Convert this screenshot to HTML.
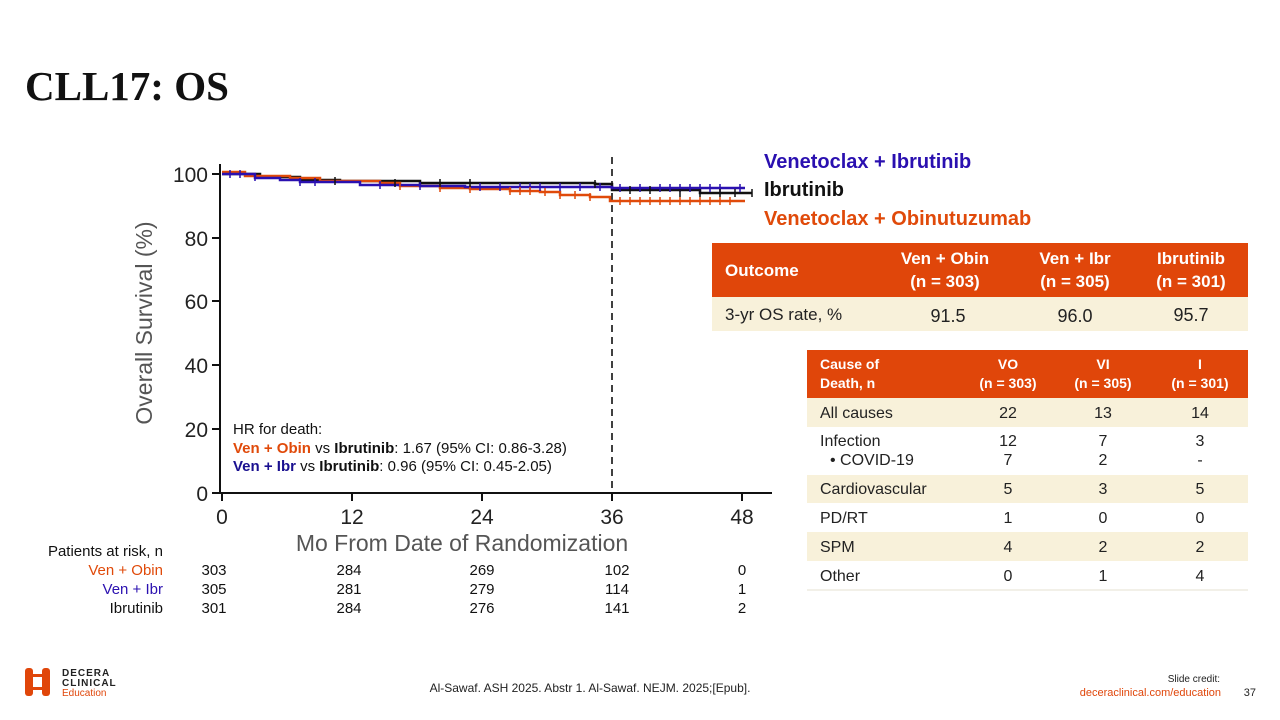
<!DOCTYPE html>
<html><head><meta charset="utf-8"><style>
body{margin:0;width:1280px;height:720px;overflow:hidden;background:#fff}
svg{display:block}
text{font-family:"Liberation Sans","DejaVu Sans",sans-serif}
</style></head><body>
<svg width="1280" height="720" viewBox="0 0 1280 720">
<text x="25" y="100" style="font-family:'Liberation Serif',serif" font-weight="bold" font-size="41" fill="#111">CLL17: OS</text>

<!-- axes -->
<g stroke="#111" stroke-width="2" fill="none">
<path d="M220,164 V493 H772"/>
<path d="M212,174H220M212,238H220M212,301H220M212,365H220M212,429H220M212,493H220"/>
<path d="M222,493V501M352,493V501M482,493V501M612,493V501M742,493V501"/>
</g>
<path d="M612,157V500" stroke="#111" stroke-width="1.6" stroke-dasharray="7,5"/>
<g font-size="21" fill="#222" text-anchor="end">
<text x="208" y="182">100</text><text x="208" y="246">80</text><text x="208" y="309">60</text>
<text x="208" y="373">40</text><text x="208" y="437">20</text><text x="208" y="501">0</text>
</g>
<g font-size="21" fill="#222" text-anchor="middle">
<text x="222" y="524">0</text><text x="352" y="524">12</text><text x="482" y="524">24</text><text x="612" y="524">36</text><text x="742" y="524">48</text>
</g>
<text x="462" y="551" font-size="23" fill="#555" text-anchor="middle">Mo From Date of Randomization</text>
<text transform="translate(152,323) rotate(-90)" font-size="23" fill="#555" text-anchor="middle">Overall Survival (%)</text>

<!-- curves -->
<g fill="none" stroke-width="2.5">
<path stroke="#111" d="M222,174H260V177H300V180H340V181H420V183H595V184H612V190H700V193H752"/>
<path stroke="#e04a0a" d="M222,172H245V176H290V178H320V181H380V183H400V186H440V188H470V189H510V191H540V192H560V195H590V197H610V201H745"/>
<path stroke="#2a10b0" d="M222,174H255V178H280V180H300V182H360V185H420V186H465V187H612V188H745"/>
</g>
<g stroke-width="1.5">
<path stroke="#2a10b0" d="M230,170v8M240,170v8M255,173v8M300,178v8M315,178v8M380,181v8M420,182v8M480,183v8M500,183v8M520,183v8M530,183v8M540,183v8M560,183v8M580,183v8M600,183v8M620,184v8M640,184v8M660,184v8M670,184v8M680,184v8M690,184v8M700,184v8M710,184v8M720,184v8M740,184v8"/>
<path stroke="#e04a0a" d="M400,182v8M440,184v8M470,185v8M510,187v8M520,187v8M530,187v8M545,188v8M560,191v8M575,191v8M590,193v8M620,197v8M630,197v8M640,197v8M650,197v8M660,197v8M670,197v8M680,197v8M690,197v8M700,197v8M710,197v8M720,197v8M730,197v8"/>
<path stroke="#111" d="M335,177v8M395,179v8M440,179v8M470,179v8M595,180v8M630,186v8M650,186v8M680,189v8M700,189v8M720,189v8M735,189v8M752,189v8"/>
</g>

<g font-size="15" fill="#111">
<text x="233" y="434">HR for death:</text>
<text x="233" y="453"><tspan font-weight="bold" fill="#e04a0a">Ven + Obin</tspan> vs <tspan font-weight="bold">Ibrutinib</tspan>: 1.67 (95% CI: 0.86-3.28)</text>
<text x="233" y="471"><tspan font-weight="bold" fill="#1a1090">Ven + Ibr</tspan> vs <tspan font-weight="bold">Ibrutinib</tspan>: 0.96 (95% CI: 0.45-2.05)</text>
</g>

<g font-size="20" font-weight="bold">
<text x="764" y="168" fill="#2a10b0">Venetoclax + Ibrutinib</text>
<text x="764" y="196" fill="#111">Ibrutinib</text>
<text x="764" y="225" fill="#e04a0a">Venetoclax + Obinutuzumab</text>
</g>

<!-- at risk -->
<g font-size="15" text-anchor="end">
<text x="163" y="556" fill="#111">Patients at risk, n</text>
<text x="163" y="575" fill="#e04a0a">Ven + Obin</text>
<text x="163" y="594" fill="#2a10b0">Ven + Ibr</text>
<text x="163" y="613" fill="#111">Ibrutinib</text>
</g>
<g font-size="15" fill="#111" text-anchor="middle">
<text x="214" y="575">303</text><text x="349" y="575">284</text><text x="482" y="575">269</text><text x="617" y="575">102</text><text x="742" y="575">0</text>
<text x="214" y="594">305</text><text x="349" y="594">281</text><text x="482" y="594">279</text><text x="617" y="594">114</text><text x="742" y="594">1</text>
<text x="214" y="613">301</text><text x="349" y="613">284</text><text x="482" y="613">276</text><text x="617" y="613">141</text><text x="742" y="613">2</text>
</g>

<!-- table 1 -->
<rect x="712" y="243" width="536" height="54" fill="#e0460a"/>
<rect x="712" y="297" width="536" height="34" fill="#f8f1da"/>
<g fill="#fff" font-weight="bold" font-size="17" text-anchor="middle">
<text x="725" y="276" text-anchor="start">Outcome</text>
<text x="945" y="264">Ven + Obin</text><text x="945" y="287">(n = 303)</text>
<text x="1075" y="264">Ven + Ibr</text><text x="1075" y="287">(n = 305)</text>
<text x="1191" y="264">Ibrutinib</text><text x="1191" y="287">(n = 301)</text>
</g>
<g fill="#222" font-size="18" text-anchor="middle">
<text x="725" y="320" text-anchor="start" font-size="17">3-yr OS rate, %</text>
<text x="948" y="322">91.5</text><text x="1075" y="322">96.0</text><text x="1191" y="321">95.7</text>
</g>

<!-- table 2 -->
<rect x="807" y="350" width="441" height="48" fill="#e0460a"/>
<rect x="807" y="398" width="441" height="29" fill="#f8f1da"/>
<rect x="807" y="475" width="441" height="28" fill="#f8f1da"/>
<rect x="807" y="532" width="441" height="29" fill="#f8f1da"/>
<path d="M807,590H1248" stroke="#e5e0d0"/>
<g fill="#fff" font-weight="bold" font-size="14" text-anchor="middle">
<text x="820" y="369" text-anchor="start">Cause of</text><text x="820" y="388" text-anchor="start">Death, n</text>
<text x="1008" y="369">VO</text><text x="1008" y="388">(n = 303)</text>
<text x="1103" y="369">VI</text><text x="1103" y="388">(n = 305)</text>
<text x="1200" y="369">I</text><text x="1200" y="388">(n = 301)</text>
</g>
<g fill="#222" font-size="16">
<text x="820" y="418">All causes</text>
<text x="820" y="446">Infection</text>
<text x="830" y="465">•  COVID-19</text>
<text x="820" y="494">Cardiovascular</text>
<text x="820" y="523">PD/RT</text>
<text x="820" y="552">SPM</text>
<text x="820" y="581">Other</text>
</g>
<g fill="#222" font-size="16" text-anchor="middle">
<text x="1008" y="418">22</text><text x="1103" y="418">13</text><text x="1200" y="418">14</text>
<text x="1008" y="446">12</text><text x="1103" y="446">7</text><text x="1200" y="446">3</text>
<text x="1008" y="465">7</text><text x="1103" y="465">2</text><text x="1200" y="465">-</text>
<text x="1008" y="494">5</text><text x="1103" y="494">3</text><text x="1200" y="494">5</text>
<text x="1008" y="523">1</text><text x="1103" y="523">0</text><text x="1200" y="523">0</text>
<text x="1008" y="552">4</text><text x="1103" y="552">2</text><text x="1200" y="552">2</text>
<text x="1008" y="581">0</text><text x="1103" y="581">1</text><text x="1200" y="581">4</text>
</g>

<!-- footer -->
<g fill="#e0460a">
<rect x="25" y="668" width="8" height="28" rx="3"/><rect x="42" y="668" width="8" height="28" rx="3"/>
<rect x="27" y="674" width="21" height="16"/>
</g>
<rect x="33" y="677" width="9" height="10" fill="#fff"/>
<g font-size="10" font-weight="bold" fill="#222" letter-spacing="1">
<text x="62" y="676">DECERA</text><text x="62" y="686">CLINICAL</text>
</g>
<text x="62" y="696" font-size="10" fill="#e0460a">Education</text>
<text x="590" y="692" font-size="12" fill="#222" text-anchor="middle">Al-Sawaf. ASH 2025. Abstr 1. Al-Sawaf. NEJM. 2025;[Epub].</text>
<text x="1220" y="682" font-size="10" fill="#222" text-anchor="end">Slide credit:</text>
<text x="1221" y="696" font-size="11" fill="#e0460a" text-anchor="end">deceraclinical.com/education</text>
<text x="1256" y="696" font-size="11" fill="#222" text-anchor="end">37</text>
</svg>
</body></html>
